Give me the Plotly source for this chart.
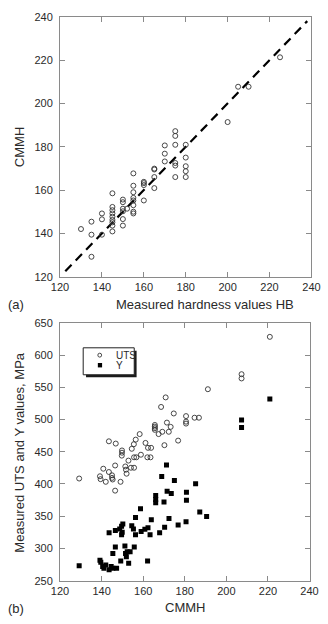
import plotly.graph_objects as go

W, H = 328, 624

# ---- (a) data ----
hb = [225, 205, 210, 200, 175, 175, 170, 175, 180, 170, 180, 170, 175, 175, 180, 180, 180, 175,
      165, 165, 165, 165, 160, 160, 160, 160, 155, 155, 155, 155, 155, 155, 155, 155,
      150, 150, 150, 150, 150, 150, 152, 145, 145, 145, 145, 145, 145, 145, 145, 145,
      140, 140, 140, 135, 135, 135, 130]
cmmh_a = [221.3, 207.7, 207.7, 191.4, 187.2, 185.0, 180.6, 180.9, 180.9, 176.8, 175.0, 173.2, 172.5, 171.3, 171.0, 168.7, 166.0, 166.0,
          169.9, 169.5, 166.0, 160.9, 163.8, 163.2, 162.3, 155.2, 167.7, 162.0, 159.0, 156.4, 155.2, 153.0, 150.0, 149.2,
          155.6, 154.4, 151.4, 150.2, 146.6, 143.6, 151.4, 158.5, 152.2, 150.7, 149.2, 147.7, 146.2, 145.1, 143.6, 140.9,
          149.2, 146.5, 139.4, 145.4, 139.4, 129.2, 142.0]
line_ref = [122.5, 238]

# ---- (b) data ----
uts_x = [220.9, 207.3, 207.3, 191.1, 170.8, 168.6, 174.7, 180.6, 180.6, 180.6, 184.7, 186.8, 171.4, 165.6, 165.6, 165.6, 165.6,
         167.4, 169.2, 172.3, 173.2, 176.8, 170.2, 143.5, 146.8, 158.3, 156.4, 155.5, 154.5, 161.1, 162.3, 163.8, 149.8, 149.8,
         149.7, 158.9, 162.0, 163.5, 155.6, 156.7, 152.9, 154.1, 155.6, 151.4, 151.7, 152.0, 146.5, 140.8, 143.5, 145.0, 145.0,
         145.3, 139.2, 139.5, 142.0, 149.1, 146.5, 129.2]
uts_y = [628.2, 570.3, 563.7, 547.0, 534.3, 519.5, 509.4, 505.3, 496.7, 493.7, 502.8, 502.8, 495.2, 491.6, 489.0, 486.6, 484.0,
         477.4, 481.0, 481.0, 488.6, 467.3, 460.2, 466.2, 462.7, 477.4, 468.8, 461.7, 454.6, 463.7, 456.1, 456.1, 452.0, 448.5,
         444.0, 445.4, 441.4, 441.4, 441.4, 441.4, 436.3, 425.2, 425.2, 427.2, 422.2, 416.0, 428.7, 423.7, 418.6, 413.5, 409.5,
         407.0, 412.0, 407.5, 403.4, 403.4, 389.7, 408.5]
y_x = [129.2, 139.2, 139.6, 140.5, 142.0, 141.1, 143.6, 144.6, 145.4, 147.2, 145.4, 146.6, 149.2, 151.2, 151.5, 152.3, 151.9,
       153.7, 153.0, 155.7, 162.1, 143.6, 146.6, 148.7, 149.6, 150.2, 149.6, 149.9, 154.5, 155.3, 156.3, 156.3, 158.7, 159.0,
       160.8, 162.3, 163.3, 163.9, 166.0, 166.0, 166.0, 167.9, 170.0, 170.3, 171.5, 173.5, 172.4, 175.0, 176.8, 180.8, 180.8,
       180.6, 185.2, 187.2, 190.5, 168.9, 171.2, 207.3, 207.3, 220.9]
y_y = [273.3, 281.9, 278.6, 272.0, 274.5, 269.5, 267.0, 272.0, 269.5, 269.5, 292.3, 302.4, 280.6, 303.9, 292.3, 294.8, 287.2,
       294.8, 277.0, 302.4, 280.6, 324.3, 327.8, 330.4, 334.3, 338.0, 321.3, 325.2, 335.4, 330.4, 321.3, 348.0, 361.7, 326.3,
       330.0, 332.0, 321.3, 344.5, 382.1, 376.0, 370.9, 324.3, 372.0, 332.8, 388.7, 385.2, 346.5, 405.4, 336.4, 387.2, 375.0,
       341.5, 400.3, 356.7, 349.6, 411.5, 429.3, 499.2, 487.6, 531.7]

series_names = ["UTS", "Y"]
ticks_a = [120, 140, 160, 180, 200, 220, 240]
ticks_b_y = [250, 300, 350, 400, 450, 500, 550, 600, 650]

FONT = "Liberation Sans, Arial, sans-serif"
TXT = "#2a2a2a"
FRAME = "#8a8a8a"

def px(v):
    return v / W

def py(v):
    return 1 - v / H

fig = go.Figure()

fig.add_trace(go.Scatter(x=line_ref, y=line_ref, mode="lines",
                         line=dict(color="black", width=2.2, dash="9px,6px"),
                         showlegend=False, xaxis="x", yaxis="y"))
fig.add_trace(go.Scatter(x=hb, y=cmmh_a, mode="markers",
                         marker=dict(symbol="circle-open", size=5, color="#333", line=dict(width=0.9, color="#333")),
                         showlegend=False, xaxis="x", yaxis="y"))

fig.add_trace(go.Scatter(x=uts_x, y=uts_y, mode="markers", name=series_names[0],
                         marker=dict(symbol="circle-open", size=5, color="#333", line=dict(width=0.9, color="#333")),
                         showlegend=False, xaxis="x2", yaxis="y2"))
fig.add_trace(go.Scatter(x=y_x, y=y_y, mode="markers", name=series_names[1],
                         marker=dict(symbol="square", size=5, color="black"),
                         showlegend=False, xaxis="x2", yaxis="y2"))

axis_common = dict(showline=True, mirror="ticks", linecolor=FRAME, linewidth=1,
                   ticks="inside", ticklen=5, tickcolor=FRAME, tickwidth=1,
                   showgrid=False, zeroline=False,
                   tickfont=dict(family=FONT, size=11, color=TXT))

fig.update_layout(
    width=W, height=H,
    margin=dict(l=0, r=0, t=0, b=0),
    paper_bgcolor="white", plot_bgcolor="white",
    xaxis=dict(domain=[px(54), px(320)], range=[120, 240], tickvals=ticks_a, anchor="y", **axis_common),
    yaxis=dict(domain=[py(276), py(11)], range=[120, 240], tickvals=ticks_a, anchor="x", ticklabelstandoff=4, **axis_common),
    xaxis2=dict(domain=[px(54), px(318)], range=[120, 240], tickvals=ticks_a, anchor="y2", **axis_common),
    yaxis2=dict(domain=[py(586), py(323)], range=[250, 650], tickvals=ticks_b_y, anchor="x2", ticklabelstandoff=4, **axis_common),
    showlegend=False,
)

# ---- legend box (with drop shadow) ----
L, T, R, B = 78.5, 348.5, 132.5, 376
fig.add_shape(type="rect", xref="paper", yref="paper",
              x0=px(L + 3), x1=px(R + 2.5), y0=py(B + 2.5), y1=py(T + 3),
              fillcolor="#1a1a1a", line=dict(width=0), layer="above")
fig.add_shape(type="rect", xref="paper", yref="paper",
              x0=px(L), x1=px(R), y0=py(B), y1=py(T),
              fillcolor="white", line=dict(width=1, color="#222"), layer="above")
# legend symbols
fig.add_shape(type="circle", xref="paper", yref="paper",
              x0=px(94), x1=px(98), y0=py(358), y1=py(354),
              fillcolor="white", line=dict(width=0.9, color="#333"), layer="above")
fig.add_shape(type="rect", xref="paper", yref="paper",
              x0=px(94), x1=px(98.5), y0=py(368.5), y1=py(364),
              fillcolor="black", line=dict(width=0), layer="above")

annots = [
    dict(text="CMMH", x=px(11), y=py(143.5), textangle=-90, font=dict(size=13)),
    dict(text="Measured hardness values HB", x=px(207), y=py(304), font=dict(size=13)),
    dict(text="(a)", x=px(-3), y=py(304), xanchor="left", font=dict(size=13)),
    dict(text="Measured UTS and Y values, MPa", x=px(11), y=py(455), textangle=-90, font=dict(size=13)),
    dict(text="CMMH", x=px(186), y=py(613), font=dict(size=13)),
    dict(text="(b)", x=px(-3), y=py(614), xanchor="left", font=dict(size=13)),
    dict(text=series_names[0], x=px(111), y=py(356), xanchor="left", font=dict(size=10)),
    dict(text=series_names[1], x=px(111), y=py(366.5), xanchor="left", font=dict(size=10)),
]
for a in annots:
    a.setdefault("xanchor", "center")
    a["yanchor"] = "middle"
    a["xref"] = "paper"
    a["yref"] = "paper"
    a["showarrow"] = False
    a["font"] = dict(family=FONT, color=TXT, size=a["font"]["size"])
    fig.add_annotation(**a)

fig.write_html("out.html")
